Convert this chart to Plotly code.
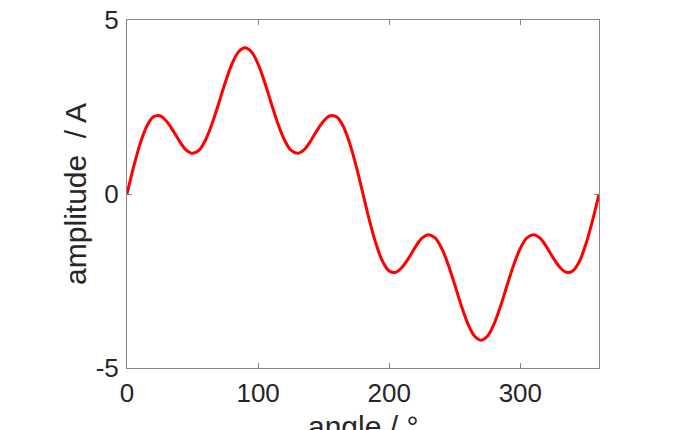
import plotly.graph_objects as go

angle_deg = list(range(0, 361, 5))
amplitude = [
    0.00, 0.77, 1.44, 1.94, 2.21, 2.25, 2.10, 1.83, 1.52, 1.27,
    1.17, 1.26, 1.56, 2.03, 2.61, 3.21, 3.73, 4.08, 4.20, 4.08,
    3.73, 3.21, 2.61, 2.03, 1.56, 1.26, 1.17, 1.27, 1.52, 1.83,
    2.10, 2.25, 2.21, 1.94, 1.44, 0.77, 0.00,
    -0.77, -1.44, -1.94, -2.21, -2.25, -2.10, -1.83, -1.52, -1.27,
    -1.17, -1.26, -1.56, -2.03, -2.61, -3.21, -3.73, -4.08, -4.20, -4.08,
    -3.73, -3.21, -2.61, -2.03, -1.56, -1.26, -1.17, -1.27, -1.52, -1.83,
    -2.10, -2.25, -2.21, -1.94, -1.44, -0.77, 0.00,
]
x_ticks = [0, 100, 200, 300]
x_tick_labels = ["0", "100", "200", "300"]
y_ticks = [-5, 0, 5]
y_tick_labels = ["-5", "0", "5"]
x_title = "angle / °"
y_title = "amplitude\u00a0 / A"

FONT = "Helvetica Neue, Liberation Sans, Arial, sans-serif"
AXIS_COLOR = "#858585"
TEXT = "#262626"

fig = go.Figure(go.Scatter(
    x=angle_deg, y=amplitude, mode="lines",
    line=dict(color="#ff0000", width=3, shape="spline"),
    showlegend=False, hoverinfo="skip",
))

axis_common = dict(
    showline=True, linecolor=AXIS_COLOR, linewidth=1, mirror="ticks",
    ticks="inside", ticklen=5, tickcolor=AXIS_COLOR, tickwidth=1,
    showgrid=False, zeroline=False, automargin=False,
    ticklabelstandoff=2, ticklabeloverflow="allow",
    tickfont=dict(family=FONT, size=26, color=TEXT),
)

fig.update_layout(
    width=700, height=430,
    margin=dict(l=119, r=109, t=12, b=70, autoexpand=False),
    paper_bgcolor="white", plot_bgcolor="white",
    font=dict(family=FONT, color=TEXT),
    xaxis=dict(range=[0, 360], tickvals=x_ticks, ticktext=x_tick_labels,
               **axis_common),
    yaxis=dict(range=[-5, 5], tickvals=y_ticks, ticktext=y_tick_labels,
               title=dict(text=y_title, font=dict(family=FONT, size=30, color=TEXT), standoff=0),
               **axis_common),
    annotations=[dict(
        text=x_title, xref="paper", yref="paper", x=0.5, y=-0.115,
        xanchor="center", yanchor="top", showarrow=False,
        font=dict(family=FONT, size=30, color=TEXT),
    )],
)

fig.write_html("out.html")
